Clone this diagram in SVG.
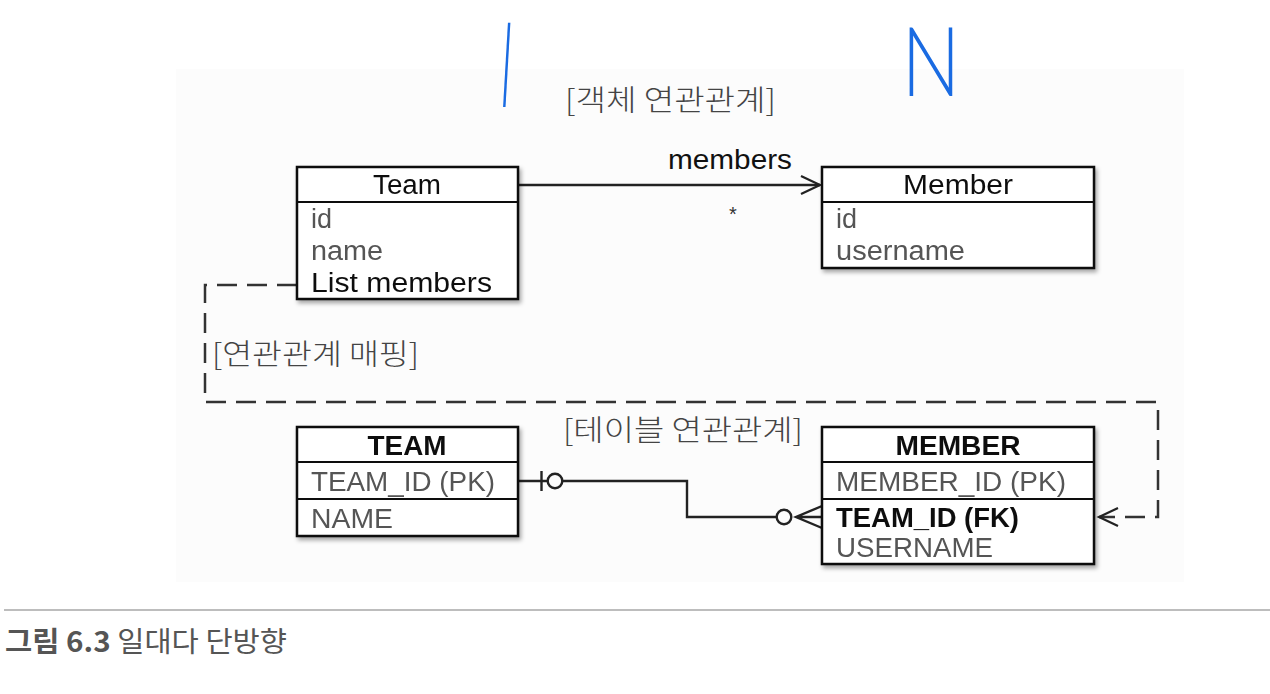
<svg xmlns="http://www.w3.org/2000/svg" width="1270" height="694" viewBox="0 0 1270 694">
<defs>
<filter id="sh" x="-10%" y="-10%" width="130%" height="130%">
<feDropShadow dx="2" dy="3" stdDeviation="2" flood-color="#000" flood-opacity="0.35"/>
</filter>
<marker id="open" markerWidth="24" markerHeight="24" refX="20" refY="10" orient="auto" markerUnits="userSpaceOnUse">
<path d="M1,1 L20,10 L1,19" fill="none" stroke="#222" stroke-width="2.2"/>
</marker>
</defs>
<style>
.box{fill:#fff;stroke:#111;stroke-width:2.5}
.div{stroke:#111;stroke-width:2.2}
.hd{font-family:"Liberation Sans","Noto Sans CJK KR",sans-serif;font-size:27px;fill:#111;text-anchor:middle}
.at{font-family:"Liberation Sans","Noto Sans CJK KR",sans-serif;font-size:27px;fill:#555}
.b{font-weight:bold;fill:#111}
.ko{font-family:"Noto Sans CJK KR","Liberation Sans",sans-serif;font-size:29px;fill:#444;font-weight:300}
.ln{fill:none;stroke:#222;stroke-width:2.4}
.dash{fill:none;stroke:#333;stroke-width:2.5;stroke-dasharray:20 10}
.blue{fill:#1a6be2}
</style>
<rect x="0" y="0" width="1270" height="694" fill="#fff"/>
<rect x="176" y="69" width="1008" height="513" fill="#fcfcfc"/>
<line x1="4" y1="610" x2="1270" y2="610" stroke="#bdbdbd" stroke-width="2"/>

<g id="hand-annotations">
<text class="blue" font-family="Liberation Sans,sans-serif" font-size="30" text-anchor="middle" transform="translate(505.5,87.6) skewX(-3.3) scale(1,3)">|</text>
<text class="blue" font-family="Lato,sans-serif" font-weight="300" font-size="30" text-anchor="middle" transform="translate(931,96) scale(2.6,3.2)">N</text>
</g>

<g id="titles">
<text class="ko" x="565" y="111" textLength="211" lengthAdjust="spacingAndGlyphs">[객체 연관관계]</text>
<text class="ko" x="212" y="365" textLength="207" lengthAdjust="spacingAndGlyphs">[연관관계 매핑]</text>
<text class="ko" x="563" y="441" textLength="240" lengthAdjust="spacingAndGlyphs">[테이블 연관관계]</text>
</g>

<g id="connectors">
<path class="ln" d="M518,185 H820" marker-end="url(#open)"/>
<text x="668" y="169" font-family="Liberation Sans,sans-serif" font-size="27" fill="#111" textLength="124" lengthAdjust="spacingAndGlyphs">members</text>
<text x="733" y="221" font-family="Liberation Sans,sans-serif" font-size="20" fill="#333" text-anchor="middle">*</text>
<path class="dash" d="M297,285 H205 V402 H1158 V517 H1099" marker-end="url(#open)"/>
<path class="ln" d="M518,481 H547 M562,481 H687 V517 H777"/>
<line class="ln" x1="541.5" y1="471" x2="541.5" y2="491"/>
<circle class="ln" cx="555" cy="481" r="7.3" fill="#fff"/>
<circle class="ln" cx="784" cy="517" r="7.3" fill="#fff"/>
<path class="ln" d="M822,506 L796,517 L822,528 M796,517 H822"/>
</g>

<g id="Team" filter="url(#sh)">
<rect class="box" x="297" y="167" width="221" height="132"/>
<line class="div" x1="297" y1="202" x2="518" y2="202"/>
<text class="hd" x="407" y="194" textLength="68" lengthAdjust="spacingAndGlyphs">Team</text>
<text class="at" x="311" y="228">id</text>
<text class="at" x="311" y="260" textLength="72" lengthAdjust="spacingAndGlyphs">name</text>
<text class="at" x="311" y="292" style="fill:#111" textLength="181" lengthAdjust="spacingAndGlyphs">List members</text>
</g>

<g id="Member" filter="url(#sh)">
<rect class="box" x="822" y="167" width="272" height="101"/>
<line class="div" x1="822" y1="202" x2="1094" y2="202"/>
<text class="hd" x="958" y="194" textLength="110" lengthAdjust="spacingAndGlyphs">Member</text>
<text class="at" x="836" y="228">id</text>
<text class="at" x="836" y="260" textLength="129" lengthAdjust="spacingAndGlyphs">username</text>
</g>

<g id="TEAM" filter="url(#sh)">
<rect class="box" x="297" y="427" width="221" height="109"/>
<line class="div" x1="297" y1="462" x2="518" y2="462"/>
<line class="div" x1="297" y1="499" x2="518" y2="499"/>
<text class="hd b" x="407" y="455" textLength="79" lengthAdjust="spacingAndGlyphs">TEAM</text>
<text class="at" x="311" y="491" textLength="184" lengthAdjust="spacingAndGlyphs">TEAM_ID (PK)</text>
<text class="at" x="311" y="528" textLength="82" lengthAdjust="spacingAndGlyphs">NAME</text>
</g>

<g id="MEMBER" filter="url(#sh)">
<rect class="box" x="822" y="427" width="272" height="137"/>
<line class="div" x1="822" y1="462" x2="1094" y2="462"/>
<line class="div" x1="822" y1="499" x2="1094" y2="499"/>
<text class="hd b" x="958" y="455" textLength="125" lengthAdjust="spacingAndGlyphs">MEMBER</text>
<text class="at" x="836" y="491" textLength="230" lengthAdjust="spacingAndGlyphs">MEMBER_ID (PK)</text>
<text class="at b" x="836" y="527" textLength="183" lengthAdjust="spacingAndGlyphs">TEAM_ID (FK)</text>
<text class="at" x="836" y="557" textLength="157" lengthAdjust="spacingAndGlyphs">USERNAME</text>
</g>

<g id="caption">
<text x="5" y="652" font-family="Noto Sans CJK KR,Liberation Sans,sans-serif" font-size="28" fill="#555" textLength="282" lengthAdjust="spacingAndGlyphs"><tspan font-weight="bold">그림 6.3</tspan> 일대다 단방향</text>
</g>
</svg>
